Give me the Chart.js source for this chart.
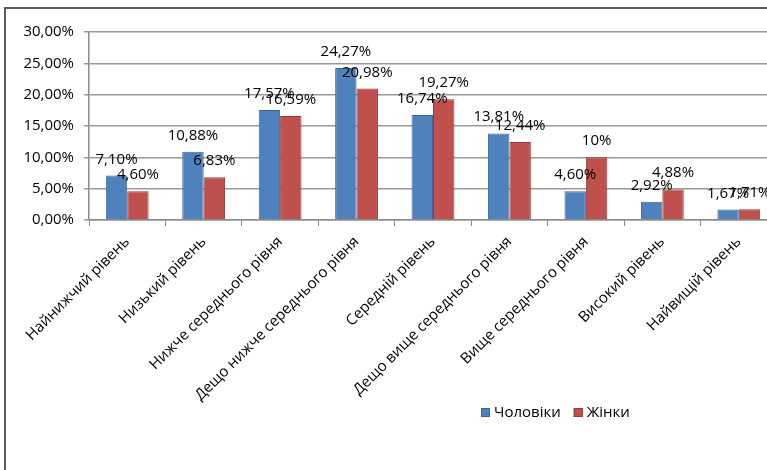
<!DOCTYPE html>
<html>
<head>
<meta charset="utf-8">
<script src="https://cdn.jsdelivr.net/npm/chart.js@4"></script>
<style>
  body { margin: 0; overflow: hidden; background: #fff; }
  #wrap { position: absolute; left: 0; top: 0; width: 800px; height: 470px; }
  #frame { position: absolute; left: 4px; top: 7px; width: 900px; height: 600px;
           border-left: 2px solid #5a5a5a; border-top: 2px solid #5a5a5a; }
</style>
</head>
<body>
<div id="frame"></div>
<div id="wrap"><canvas id="barChart"></canvas></div>
<script>
var categories = [
  'Найнижчий рівень',
  'Низький рівень',
  'Нижче середнього рівня',
  'Дещо нижче середнього рівня',
  'Середній рівень',
  'Дещо вище середнього рівня',
  'Вище середнього рівня',
  'Високий рівень',
  'Найвищій рівень'
]
var men   = [7.10, 10.88, 17.57, 24.27, 16.74, 13.81, 4.60, 2.92, 1.67]
var women = [4.60, 6.83, 16.59, 20.98, 19.27, 12.44, 10, 4.88, 1.71]
var seriesNames = ['Чоловіки', 'Жінки']
var yTicks = [0, 5, 10, 15, 20, 25, 30]

var font = '"Open Sans", sans-serif'

function labelFmt(v) {
  return Number.isInteger(v) ? v + '%' : v.toFixed(2).replace('.', ',') + '%'
}

// value labels above each bar
var valueLabels = {
  id: 'valueLabels',
  afterDatasetsDraw: function(chart) {
    var ctx = chart.ctx
    ctx.save()
    ctx.font = '15px ' + font
    ctx.fillStyle = '#000'
    ctx.textAlign = 'center'
    ctx.textBaseline = 'alphabetic'
    chart.data.datasets.forEach(function(ds, i) {
      chart.getDatasetMeta(i).data.forEach(function(bar, j) {
        ctx.fillText(labelFmt(ds.data[j]), bar.x, bar.y - 12)
      })
    })
    ctx.restore()
  }
}

// legend placed like the original (bottom, right of centre)
var sideLegend = {
  id: 'sideLegend',
  afterDraw: function(chart) {
    var ctx = chart.ctx
    var x = 481, y = 413
    ctx.save()
    ctx.font = '15px ' + font
    ctx.textBaseline = 'middle'
    chart.data.datasets.forEach(function(ds) {
      ctx.fillStyle = ds.backgroundColor
      ctx.strokeStyle = ds.borderColor
      ctx.lineWidth = 1
      ctx.fillRect(x, y - 5, 9, 9)
      ctx.strokeRect(x + 0.5, y - 4.5, 8, 8)
      ctx.fillStyle = '#000'
      ctx.fillText(ds.label, x + 13, y)
      x += 13 + ctx.measureText(ds.label).width + 13
    })
    ctx.restore()
  }
}

var barChartCanvas = document.getElementById('barChart').getContext('2d')
var barData = {
  labels: categories,
  datasets: [
    {
      label: seriesNames[0],
      data: men,
      backgroundColor: '#4f81bd',
      borderColor: '#3a669c',
      borderWidth: 1
    },
    {
      label: seriesNames[1],
      data: women,
      backgroundColor: '#c0504d',
      borderColor: '#943b39',
      borderWidth: 1
    }
  ]
}
var barOptions = {
  responsive: true,
  maintainAspectRatio: false,
  animation: false,
  layout: { padding: { top: 32, right: 23, left: 0, bottom: 0 } },
  categoryPercentage: 0.56,
  barPercentage: 1.0,
  plugins: {
    legend: { display: false },
    tooltip: { enabled: false }
  },
  scales: {
    x: {
      grid: { drawOnChartArea: false, offset: true, tickLength: 6, color: '#8c8c8c' },
      border: { color: '#8c8c8c', width: 1.5 },
      ticks: {
        color: '#000',
        font: { family: font, size: 15 },
        minRotation: 45,
        maxRotation: 45,
        padding: 7
      },
      afterFit: function(s) { s.height = 250 }
    },
    y: {
      min: 0,
      max: 30,
      afterBuildTicks: function(s) { s.ticks = yTicks.map(function(v) { return { value: v } }) },
      grid: { color: '#9a9a9a', lineWidth: 1.5, tickLength: 5 },
      border: { color: '#8c8c8c', width: 1.5 },
      ticks: {
        color: '#000',
        font: { family: font, size: 15 },
        padding: 10,
        callback: function(v) { return v.toFixed(2).replace('.', ',') + '%' }
      },
      afterFit: function(s) { s.width = 89 }
    }
  }
}

new Chart(barChartCanvas, {
  type: 'bar',
  data: barData,
  options: barOptions,
  plugins: [valueLabels, sideLegend]
})
</script>
</body>
</html>
